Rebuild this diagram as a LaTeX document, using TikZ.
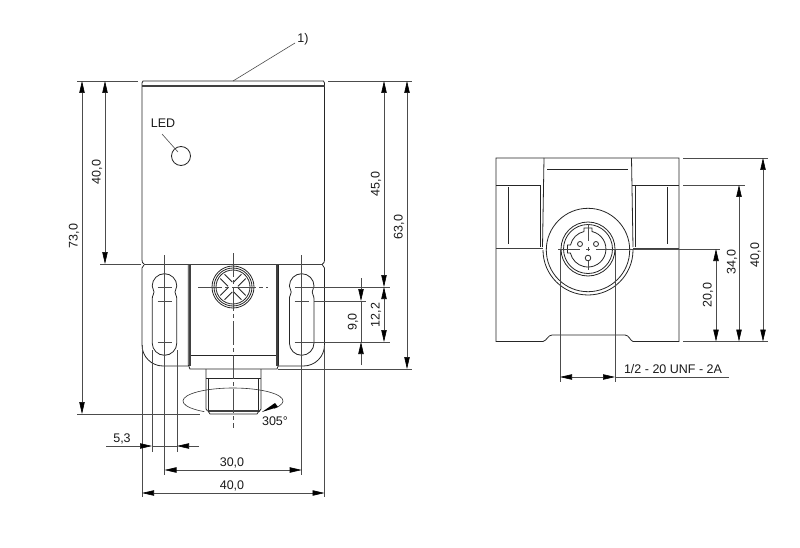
\documentclass[tikz,border=0pt]{standalone}
\usepackage{fontspec}
\setmainfont{Liberation Sans}
\usetikzlibrary{arrows.meta}
\tikzset{
	part/.style={line width=.8pt, draw=black!85},
	heavy/.style={line width=1.2pt, draw=black!75},
	dimline/.style={line width=.6pt, draw=black!70},
	dimtip/.tip={Triangle[length=12pt,width=5.4pt,black]},
	tipline/.style={dimline, -dimtip},
	tipboth/.style={dimline, dimtip-dimtip},
	centreline/.style={line width=.5pt, draw=black!70, dash pattern=on 24pt off 3pt on 4pt off 3pt},
	dimtext/.style={font=\fontsize{12.5}{12.5}\selectfont, text=black!90, inner sep=0pt},
	uptext/.style={dimtext, rotate=90}
}
\newcommand{\slotshape}{
	%one slot of the flange, around x=0
	\draw[part] (-12.3,343) -- (-12.3,299) .. controls (-12.3,295) and (-10.5,295) .. (-10.5,292)
		.. controls (-10.5,289) and (-12.3,289) .. (-12.3,286) arc[start angle=180, end angle=360, radius=12.3]
		.. controls (12.3,289) and (10.5,289) .. (10.5,292) .. controls (10.5,295) and (12.3,295) .. (12.3,299)
		-- (12.3,343) arc[start angle=0, end angle=180, radius=12.3] -- cycle;
	\foreach \y in {287,301,342}
		\draw[dimline] (-7,\y) -- (7,\y);
}
\begin{document}
\begin{tikzpicture}[x=1pt, y=1pt, yscale=-1]
	\useasboundingbox (0,0) rectangle (800,548);
	%front view, housing
	\draw[part] (144,264) .. controls (142.5,263) and (142,262) .. (142,260) -- (142,83) -- (143,81) -- (323.5,81) -- (324.5,83)
		-- (324.5,260) .. controls (324.5,262) and (324,263) .. (322.5,264);
	\draw[heavy] (144,264.3) -- (322.5,264.3);
	\draw[heavy] (142,86) -- (324.5,86);
	\draw[part] (181,156) circle (9.5);
	\draw[dimline] (162,134) -- (178,152);
	\draw[dimline] (233,81) -- (295,43);
	%flange
	\draw[part] (188,366) -- (163,366) arc[start angle=90, end angle=180, radius=21] -- (142,268) -- (144,265);
	\draw[part] (278,366) -- (303.5,366) arc[start angle=90, end angle=0, radius=21] -- (324.5,268) -- (322.5,265);
	\begin{scope}[shift={(164.5,0)}]
		\slotshape
	\end{scope}
	\begin{scope}[shift={(301.7,0)}]
		\slotshape
	\end{scope}
	%centre block
	\draw[part] (188.3,265) -- (188.3,365) -- (190,369) -- (277,369) -- (278.5,365) -- (278.5,265);
	\draw[heavy] (190,265) -- (190,366);
	\draw[heavy] (277,265) -- (277,366);
	\draw[part] (191,355) -- (275.5,355);
	%screw
	\foreach \r in {21,19,17}
		\draw[part] (233,287) circle (\r);
	\begin{scope}[shift={(233,287)}]
		\foreach \a in {45,135,225,315}
			\draw[part, rotate=\a] (4,3) -- (15,3) (4,-3) -- (15,-3);
	\end{scope}
	%plug
	\draw[part] (206,369) -- (206,409) -- (207.5,411) (261,369) -- (261,409) -- (259.5,411);
	\draw[part] (206,378) -- (261,378);
	\draw[part] (208,378) -- (208,410) (258.5,378) -- (258.5,410);
	\draw[heavy] (207.5,411) -- (259.5,411);
	\draw[part] (208,411) -- (210,414) -- (257,414) -- (259,411);
	%centre lines
	\draw[centreline] (233,253) -- (233,428);
	\draw[centreline] (198,287) -- (268,287);
	\draw[dimline] (164.5,255) -- (164.5,475);
	\draw[dimline] (301.7,255) -- (301.7,475);
	%rotation
	\draw[line width=.6pt, draw=black!80] (233,401) ++(125:50 and 13) arc[start angle=125, end angle=395, x radius=50, y radius=13];
	\fill[black] (262,412) -- (275,403) -- (278,407) -- cycle;
	%extension lines front view
	\foreach \a/\b/\y in {77/138/81,328/412/81,100/141/264,305/390/287,314/366/301,304/390/342,278/412/369,77/200/414}
		\draw[dimline] (\a,\y) -- (\b,\y);
	\foreach \x/\a/\b in {142/345/497,152/350/452,177/350/452,324.5/345/497}
		\draw[dimline] (\x,\a) -- (\x,\b);
	%dimensions front view
	\draw[tipboth] (82,81) -- (82,414);
	\draw[tipboth] (105,81) -- (105,264);
	\draw[tipboth] (384,81) -- (384,287);
	\draw[tipboth] (384,287) -- (384,342);
	\draw[tipboth] (407,81) -- (407,369);
	\draw[tipline] (361,278) -- (361,301);
	\draw[tipline] (361,365) -- (361,342);
	\draw[dimline] (361,301) -- (361,342);
	\draw[tipline] (106,446) -- (152,446);
	\draw[tipline] (199,446) -- (177,446);
	\draw[dimline] (152,446) -- (177,446);
	\draw[tipboth] (164.5,470) -- (301.7,470);
	\draw[tipboth] (142,493) -- (324.5,493);
	%side view
	\draw[part] (496,158) -- (679,158) -- (679,341.5) -- (633,341.5) .. controls (630,340.5) and (629,335) .. (625,335)
		-- (552,335) .. controls (548,335) and (547,340.5) .. (543,341.5) -- (496,341.5) -- cycle;
	\draw[part] (496,185) -- (541,185) (632,185) -- (679,185);
	\draw[heavy] (496,248.5) -- (543,248.5) (633,248.5) -- (679,248.5);
	\draw[part] (544,158) -- (542.5,247) (631.5,158) -- (633,247);
	\draw[part] (540,185) -- (540,247) (635,185) -- (635,247);
	\draw[part] (508,187) -- (508,244) (667,187) -- (667,244);
	\draw[part] (547,169) -- (628,169);
	%plug seen from the end
	\draw[part] (588,250) circle (41.7);
	\draw[part] (633,250) arc[start angle=0, end angle=180, radius=45];
	\foreach \r in {27,24.5}
		\draw[part] (588,249) circle (\r);
	\begin{scope}[shift={(588,249)}]
		\draw[part] (-4,-17.5) -- (-4,-21) -- (4,-21) -- (4,-17.5)
			arc[start angle=-77, end angle=167, radius=18] -- (-20.5,4) -- (-20.5,-4) -- (-17.5,-4)
			arc[start angle=193, end angle=257, radius=18];
		\draw[part] (-8,-5) circle (2.5) (8,-5) circle (2.5) (0,9) circle (2.8);
		\draw[dimline] (0,-25) -- (0,-8) (0,12) -- (0,21) (0,-2) -- (0,2) (-2,0) -- (2,0);
		\draw[dimline] (-30,0) -- (-8,0) (8,0) -- (132,0);
	\end{scope}
	%dimensions side view
	\foreach \a/\b/\y in {683/768/158,683/745/185,683/768/341.5}
		\draw[dimline] (\a,\y) -- (\b,\y);
	\draw[tipboth] (763,158) -- (763,341.5);
	\draw[tipboth] (739,185) -- (739,341.5);
	\draw[tipboth] (716,249) -- (716,341.5);
	\draw[dimline] (560,250) -- (560,382) (615,250) -- (615,382);
	\draw[tipboth] (560,377) -- (615,377);
	\draw[dimline] (615,377) -- (729,377);
	%labels
	\node[dimtext] (ledlabel) at (163,123) {LED};
	\node[dimtext] (notelabel) at (303,39) {1)};
	\node[uptext] (totallabel) at (74,236) {73,0};
	\node[uptext] (upperlabel) at (97,172) {40,0};
	\node[uptext] (holelabel) at (376,184) {45,0};
	\node[uptext] (flangelabel) at (399,227) {63,0};
	\node[uptext] (pitchlabel) at (376,315) {12,2};
	\node[uptext] (slotlabel) at (353,322) {9,0};
	\node[dimtext] (slotwidth) at (122,439) {5,3};
	\node[dimtext] (holewidth) at (232,463) {30,0};
	\node[dimtext] (fullwidth) at (232,486) {40,0};
	\node[dimtext] (anglelabel) at (275,421) {305°};
	\node[uptext] (sidefull) at (755.6,255) {40,0};
	\node[uptext] (sideblock) at (732,262) {34,0};
	\node[uptext] (sideaxis) at (708,295) {20,0};
	\node[dimtext] (threadlabel) at (673,369) {1/2 - 20 UNF - 2A};
\end{tikzpicture}
\end{document}
